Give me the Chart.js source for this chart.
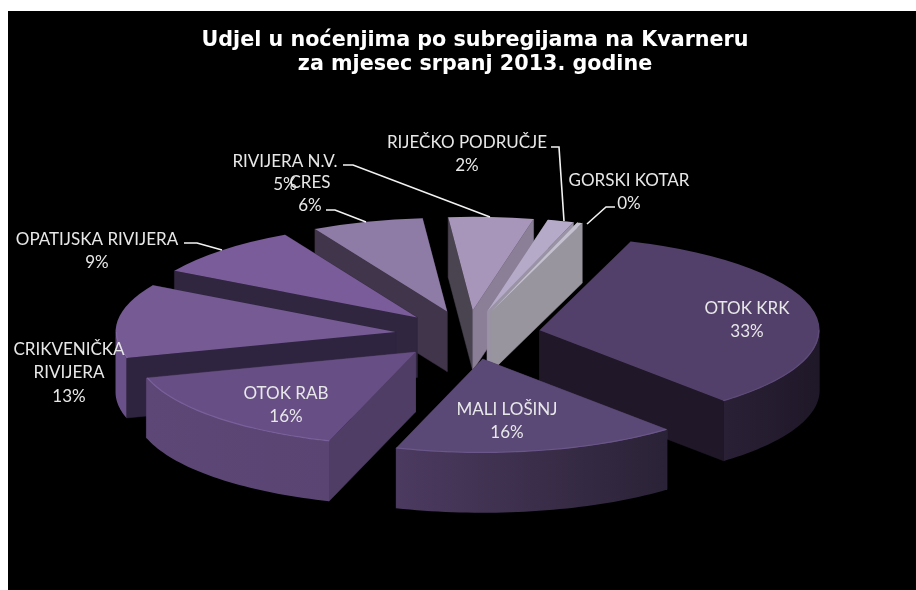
<!DOCTYPE html>
<html><head><meta charset="utf-8">
<style>
html,body{margin:0;padding:0;background:#fff;width:916px;height:590px;overflow:hidden}
#w{position:absolute;left:8px;top:11px;width:908px;height:579px;background:#000}
canvas{display:block}
</style>
<script src="https://cdn.jsdelivr.net/npm/chart.js@4"></script>
</head><body><div id="w"><canvas id="c" width="908" height="579"></canvas></div>
<script>
const titleLines = ['Udjel u noćenjima po subregijama na Kvarneru','za mjesec srpanj 2013. godine'];
const categories = ['OTOK KRK','MALI LOŠINJ','OTOK RAB','CRIKVENIČKA RIVIJERA','OPATIJSKA RIVIJERA','CRES','RIVIJERA N.V.','RIJEČKO PODRUČJE','GORSKI KOTAR'];
const shares = [33.4,16.49,15.6,12.8,8.9,6.45,4.9,1.5,0.3];
const topColors = ['#52406a','#5a4876','#674e84','#755a94','#7a5c9a','#8e7ba6','#a796ba','#b5aac8','#c4c0d0'];
const outerWall = [['#2a2036','#1f1828'],['#4c3a60','#2a2236'],['#5d4776','#5a4472'],['#6a5088','#6a5088'],['#31263f','#31263f'],['#40354a','#40354a'],['#4a4450','#4a4450'],['#8a7f96','#8a7f96'],['#98959e','#98959e']];
const radialWall = [['#2a2036','#201828'],['#4a3a5e','#4a3a5e'],['#4f3d65','#4f3d65'],['#2f2440','#2f2440'],['#31263f','#31263f'],['#40354a','#40354a'],['#4a4450','#8a7f96'],['#8a7f96','#9a93a6'],['#98959e','#98959e']];
const rimColors = ['#5e4b78','#6a5688','#7a609a','#7f64a0','#7a5c9a','#8e7ba6','#a796ba','#b5aac8','#c4c0d0'];
const labelLines = [['OTOK KRK'],['MALI LOŠINJ'],['OTOK RAB'],['CRIKVENIČKA','RIVIJERA'],['OPATIJSKA RIVIJERA'],['CRES'],['RIVIJERA N.V.'],['RIJEČKO PODRUČJE'],['GORSKI KOTAR']];
const labelX = [747,507,286,69,97,310,285,467,629];
const labelY = [308.5,409.5,393.5,349.5,239.5,182.5,161.5,142.5,180.5];
const leaders = [null,null,null,null,
 [[184,243],[197,243],[222,250]],
 [[326,210],[335,210],[366,222]],
 [[343,165],[353,165],[490,217]],
 [[551,147],[559,147],[564,221]],
 [[615,207],[606,207],[587,224]]];
const PAGE_X=8, PAGE_Y=11, CX=468, CY=335, SQUASH=0.335, EXPLODE=73, DEPTH=60, RADIUS=280, LINE=23.5;

function geom(a){
  const p=a.getProps(['x','y','startAngle','endAngle','outerRadius'],true);
  const mid=(p.startAngle+p.endAngle)/2;
  const ox=CX-PAGE_X+Math.cos(mid)*EXPLODE, oy=CY-PAGE_Y+Math.sin(mid)*EXPLODE*SQUASH;
  const pt=(ang,r,z)=>[ox+Math.cos(ang)*r, oy+Math.sin(ang)*r*SQUASH+z];
  return {p,mid,ox,oy,pt};
}
function quad(ctx,pts,col){ctx.beginPath();pts.forEach((q,i)=>i?ctx.lineTo(q[0],q[1]):ctx.moveTo(q[0],q[1]));ctx.closePath();ctx.fillStyle=col;ctx.fill();ctx.strokeStyle=col;ctx.lineWidth=.5;ctx.stroke();}
const pie3d={
  id:'pie3d',
  beforeDatasetDraw(chart,args){
    const ctx=chart.ctx, arcs=args.meta.data;
    const order=arcs.map((a,i)=>i).sort((i,j)=>Math.sin(geom(arcs[i]).mid)-Math.sin(geom(arcs[j]).mid));
    order.forEach(i=>{
      const g=geom(arcs[i]), s=g.p.startAngle, e=g.p.endAngle, R=g.p.outerRadius;
      const apex=g.pt(0,0,0), apexD=g.pt(0,0,DEPTH);
      const startFace=()=>quad(ctx,[apex,g.pt(s,R,0),g.pt(s,R,DEPTH),apexD],radialWall[i][0]);
      const endFace=()=>quad(ctx,[apex,g.pt(e,R,0),g.pt(e,R,DEPTH),apexD],radialWall[i][1]);
      const startFront=-Math.cos(s)>0, endFront=Math.cos(e)>0;
      if(!startFront)startFace();
      if(!endFront)endFace();
      if(startFront)startFace();
      if(endFront)endFace();
      const a0=Math.max(s,0), a1=Math.min(e,Math.PI);
      if(a1>a0){
        const A=g.pt(a0,R,0),B=g.pt(a1,R,0);
        const grad=ctx.createLinearGradient(Math.max(A[0],B[0]),0,Math.min(A[0],B[0]),0);
        grad.addColorStop(0,outerWall[i][1]);grad.addColorStop(1,outerWall[i][0]);
        ctx.beginPath();
        const N=40;
        for(let k=0;k<=N;k++){const q=g.pt(a0+(a1-a0)*k/N,R,0);k?ctx.lineTo(q[0],q[1]):ctx.moveTo(q[0],q[1]);}
        for(let k=N;k>=0;k--){const q=g.pt(a0+(a1-a0)*k/N,R,DEPTH);ctx.lineTo(q[0],q[1]);}
        ctx.closePath();ctx.fillStyle=grad;ctx.fill();
      }
    });
    arcs.forEach((a,i)=>{
      const g=geom(a), s=g.p.startAngle, e=g.p.endAngle, R=g.p.outerRadius;
      ctx.save();
      ctx.translate(g.ox,g.oy);ctx.scale(1,SQUASH);ctx.translate(-g.p.x,-g.p.y);
      a.draw(ctx);
      ctx.restore();
      const a0=Math.max(s,0), a1=Math.min(e,Math.PI);
      if(a1>a0){
        ctx.beginPath();
        for(let k=0;k<=40;k++){const q=g.pt(a0+(a1-a0)*k/40,R-1,0);k?ctx.lineTo(q[0],q[1]):ctx.moveTo(q[0],q[1]);}
        ctx.strokeStyle=rimColors[i];ctx.lineWidth=1.2;ctx.stroke();
      }
    });
    return false;
  },
  afterDraw(chart){
    const ctx=chart.ctx;
    ctx.save();ctx.translate(-PAGE_X,-PAGE_Y);
    ctx.strokeStyle='#f2f2f2';ctx.lineWidth=1.6;
    leaders.forEach(l=>{if(!l)return;ctx.beginPath();l.forEach((q,i)=>i?ctx.lineTo(q[0],q[1]):ctx.moveTo(q[0],q[1]));ctx.stroke();});
    ctx.font='17px Lato';ctx.fillStyle='#e8e8e8';ctx.textAlign='center';ctx.textBaseline='middle';
    categories.forEach((c,i)=>{
      const lines=[...labelLines[i],Math.round(shares[i])+'%'];
      lines.forEach((t,k)=>ctx.fillText(t,labelX[i],labelY[i]+k*LINE));
    });
    ctx.restore();
  }
};
new Chart(document.getElementById('c'),{
  type:'pie',
  data:{labels:categories,datasets:[{data:shares,backgroundColor:topColors,borderWidth:0,radius:RADIUS,clip:false,rotation:19}]},
  options:{responsive:false,animation:false,
    layout:{padding:{left:26}},
    plugins:{legend:{display:false},tooltip:{enabled:false},
      title:{display:true,text:titleLines,color:'#fff',padding:{top:18,bottom:4},font:{family:'DejaVu Sans',size:20.7,weight:'bold',lineHeight:1.16}}}
  },
  plugins:[pie3d]
});
</script></body></html>
